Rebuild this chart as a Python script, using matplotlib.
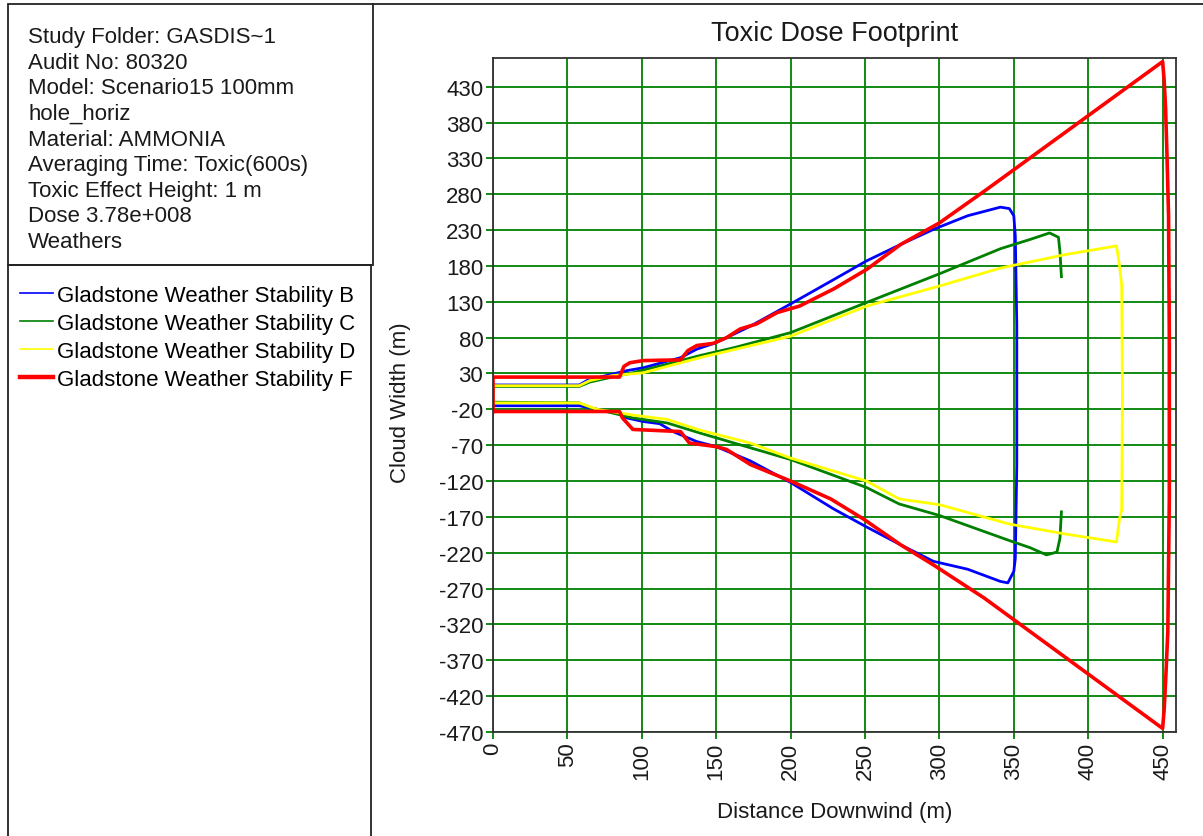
import matplotlib
matplotlib.use("Agg")
import matplotlib.pyplot as plt
from matplotlib.lines import Line2D
from matplotlib.patches import Rectangle

plt.rcParams['font.family'] = ['Liberation Sans', 'DejaVu Sans']
plt.rcParams['axes.unicode_minus'] = False

# Footprint outlines (x = distance downwind m, y = cloud width m), traced round each contour
b_x = [0, 58, 63, 72, 80, 90, 101, 117, 126, 137, 150, 173, 200, 229, 251, 274, 296, 319, 341, 347, 350, 351, 352, 352, 352, 351, 350, 346, 341, 319, 296, 274, 251, 229, 200, 173, 150, 137, 121, 112, 101, 90, 85, 70, 58, 0, 0]
b_y = [14, 14, 20, 25, 29, 34, 38, 47, 52, 64, 73, 96, 127, 161, 187, 210, 231, 250, 262, 260, 250, 222, 100, 0, -100, -228, -246, -262, -260, -243, -232, -209, -184, -159, -122, -92, -72, -65, -51, -40, -37, -32, -26, -20, -15, -15, 14]

c_x = [382, 381, 380, 374, 361, 341, 300, 251, 200, 162, 139, 117, 94, 80, 65, 58, 0, 0, 58, 66, 80, 94, 117, 139, 162, 200, 251, 273, 300, 347, 361, 372, 379, 381, 382]
c_y = [165, 200, 220, 226, 217, 204, 169, 129, 87, 66, 55, 43, 31, 25, 18, 12, 12, -10, -11, -18, -25, -32, -39, -53, -67, -90, -129, -152, -168, -203, -213, -223, -219, -200, -163]

d_x = [0, 58, 65, 80, 101, 139, 200, 251, 300, 341, 385, 408, 419, 421, 422.5, 423, 422.5, 421, 419, 385, 347, 300, 273, 251, 200, 173, 139, 117, 94, 70, 58, 0, 0]
d_y = [13, 13, 20, 27, 31, 52, 82, 124, 152, 177, 196, 204, 208, 181, 153, 0, -160, -173, -205, -194, -180, -153, -145, -120, -88, -67, -49, -34, -28, -20, -11, -11, 13]

f_x = [0, 0, 85, 88, 92, 101, 126, 131, 137, 148, 157, 166, 177, 191, 206, 229, 251, 274, 300, 332, 450, 451, 452, 453, 454, 454.5, 454.5, 453.5, 452, 451, 450, 330, 296, 274, 249, 227, 200, 173, 157, 150, 132, 126, 94, 87, 85, 0]
f_y = [-23, 25, 25, 40, 45, 48, 49, 62, 69, 72, 80, 92, 99, 115, 124, 148, 175, 210, 240, 287, 465, 440, 400, 330, 250, 80, -145, -330, -400, -440, -465, -283, -237, -209, -173, -145, -120, -97, -76, -72, -67, -51, -48, -32, -23, -23]

labels = ['Gladstone Weather Stability B', 'Gladstone Weather Stability C',
          'Gladstone Weather Stability D', 'Gladstone Weather Stability F']
colors = ['#0000ff', '#008000', '#ffff00', '#ff0000']

info = ['Study Folder: GASDIS~1', 'Audit No: 80320', 'Model: Scenario15 100mm',
        'hole_horiz', 'Material: AMMONIA', 'Averaging Time: Toxic(600s)',
        'Toxic Effect Height: 1 m', 'Dose 3.78e+008', 'Weathers']

xticks = list(range(0, 451, 50))
yticks = list(range(-470, 431, 50))

W, H = 1203, 837
fig = plt.figure(figsize=(W / 100, H / 100), dpi=100)

def fx(p):
    return p / W

def fy(p):
    return 1 - p / H

# left boxes
fig.add_artist(Rectangle((fx(8), fy(266)), fx(373) - fx(8), fy(5) - fy(266),
                         transform=fig.transFigure, fill=False, ec='#222222', lw=1.3))
fig.add_artist(Rectangle((fx(8), fy(845)), fx(371) - fx(8), fy(266) - fy(845),
                         transform=fig.transFigure, fill=False, ec='#222222', lw=1.3))
fig.add_artist(Line2D([fx(373), fx(1203)], [fy(5), fy(5)], transform=fig.transFigure,
                      color='#222222', lw=1.3))

for i, s in enumerate(info):
    fig.text(fx(28), fy(38 + 25.5 * i), s, fontsize=16, va='center', ha='left', color='#1a1a1a')

ax = fig.add_axes([fx(493), fy(733), fx(1176) - fx(493), fy(59) - fy(733)])

lws = [2, 2, 2, 2.6]
for xs, ys, c, lw, lab in zip([b_x, c_x, d_x, f_x], [b_y, c_y, d_y, f_y], colors, lws, labels):
    ax.plot(xs, ys, color=c, lw=lw, label=lab)

ax.set_xlim(0, 459)
ax.set_ylim(-470, 470)
ax.set_xticks(xticks)
ax.set_yticks(yticks)
ax.set_xticklabels([str(v) for v in xticks], rotation=90)
ax.grid(True, color='#008000', lw=1.3)
ax.set_axisbelow(True)
ax.tick_params(color='#008000', length=5, width=1.3, labelsize=16, pad=2, labelcolor='#1a1a1a')
for sp in ax.spines.values():
    sp.set_color('#333333')
    sp.set_linewidth(1.3)

ax.set_title('Toxic Dose Footprint', fontsize=19.5, pad=13, color='#1a1a1a')
ax.set_xlabel('Distance Downwind (m)', fontsize=16, color='#1a1a1a')
ax.set_ylabel('Cloud Width (m)', fontsize=16, color='#1a1a1a')
ax.xaxis.set_label_coords(0.5, -0.103)
ax.yaxis.set_label_coords(-0.12, 0.49)

handles = [Line2D([], [], color=c, lw=w) for c, w in zip(colors, [1.2, 1.2, 1.2, 3.2])]
fig.legend(handles, labels, loc='upper left', bbox_to_anchor=(fx(20), fy(286)),
           bbox_transform=fig.transFigure, frameon=False, fontsize=16,
           handlelength=1.5, handletextpad=0.15, labelspacing=0.31, borderpad=0, borderaxespad=0)

fig.savefig('out.png', dpi=100)
